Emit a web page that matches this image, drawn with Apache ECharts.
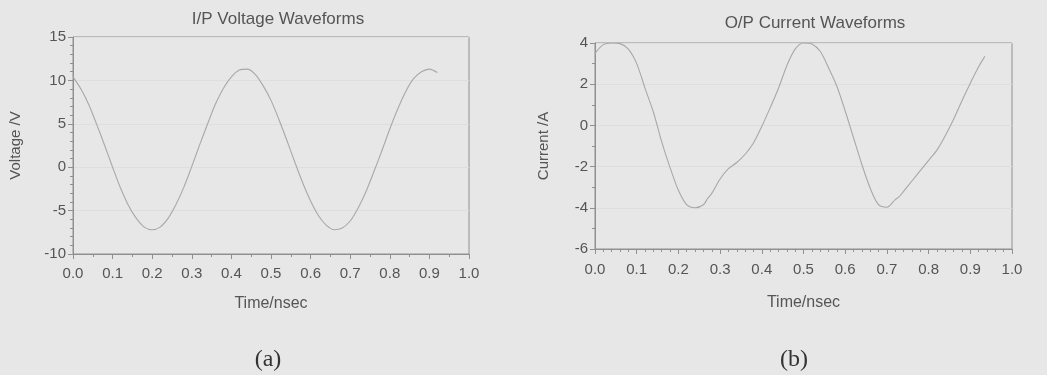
<!DOCTYPE html>
<html>
<head>
<meta charset="utf-8">
<script src="https://cdn.jsdelivr.net/npm/echarts@6/dist/echarts.min.js"></script>
<style>
html,body{margin:0;padding:0;background:#e7e7e7;}
#c{width:1047px;height:375px;}
</style>
</head>
<body>
<div id="c"></div>
<script>
// ---- data ----
var voltTime = [0.00,0.02,0.04,0.06,0.08,0.10,0.12,0.14,0.16,0.18,0.20,0.22,0.24,0.26,0.28,0.30,0.32,0.34,0.36,0.38,0.40,0.42,0.44,0.46,0.48,0.50,0.52,0.54,0.56,0.58,0.60,0.62,0.64,0.66,0.68,0.70,0.72,0.74,0.76,0.78,0.80,0.82,0.84,0.86,0.88,0.90,0.92];
var voltVals = [10.4,9.0,7.2,4.9,2.5,0.0,-2.4,-4.4,-5.9,-6.9,-7.2,-6.9,-5.9,-4.3,-2.3,0.1,2.6,5.0,7.3,9.1,10.4,11.2,11.3,10.7,9.4,7.7,5.5,3.1,0.6,-1.8,-3.9,-5.6,-6.7,-7.2,-7.0,-6.2,-4.7,-2.8,-0.5,1.9,4.4,6.7,8.7,10.2,11.0,11.3,10.9];

var curTime = [0.00,0.02,0.04,0.06,0.08,0.10,0.12,0.14,0.16,0.18,0.20,0.22,0.24,0.26,0.27,0.28,0.30,0.32,0.34,0.36,0.38,0.40,0.42,0.44,0.46,0.48,0.50,0.52,0.54,0.56,0.58,0.60,0.62,0.64,0.66,0.68,0.70,0.72,0.73,0.74,0.76,0.78,0.80,0.82,0.84,0.86,0.88,0.90,0.92,0.935];
var curVals = [3.5,3.92,4.0,3.97,3.7,3.0,1.8,0.65,-0.8,-2.05,-3.15,-3.85,-4.0,-3.85,-3.55,-3.3,-2.6,-2.1,-1.8,-1.4,-0.85,-0.05,0.85,1.8,2.9,3.7,4.0,3.95,3.6,2.8,1.9,0.7,-0.6,-1.9,-3.05,-3.85,-3.97,-3.6,-3.45,-3.2,-2.7,-2.2,-1.7,-1.2,-0.5,0.3,1.2,2.05,2.85,3.35];

var titleA = 'I/P Voltage Waveforms';
var titleB = 'O/P Current Waveforms';
var yNameA = 'Voltage /V';
var yNameB = 'Current /A';
var xName = 'Time/nsec';
var capA = '(a)';
var capB = '(b)';

function pairs(xs, ys){ return xs.map(function(x,i){ return [x, ys[i]]; }); }

var txt = '#555555';
var axc = '#909090';
var font = 'Liberation Sans, Arial, sans-serif';

function xAx(idx, gap, margin){
  return {
    type:'value', gridIndex:idx, min:0, max:1, interval:0.1,
    name:xName, nameLocation:'middle', nameGap:gap,
    nameTextStyle:{color:txt, fontSize:16, fontFamily:font},
    axisLine:{show:true, onZero:false, lineStyle:{color:axc}},
    axisTick:{show:true, length:5, lineStyle:{color:axc}},
    minorTick:{show:true, splitNumber: idx===0 ? 2 : 5, length:3, lineStyle:{color:axc}},
    axisLabel:{color:txt, fontSize:15, fontFamily:font, margin:margin, formatter:function(v){return v.toFixed(1);}},
    splitLine:{show:false}
  };
}
function yAx(idx, mn, mx, iv, nm, gap, minors){
  return {
    type:'value', gridIndex:idx, min:mn, max:mx, interval:iv,
    name:nm, nameLocation:'middle', nameGap:gap,
    nameTextStyle:{color:txt, fontSize:15, fontFamily:font},
    axisLine:{show:true, onZero:false, lineStyle:{color:axc}},
    axisTick:{show:true, length:5, lineStyle:{color:axc}},
    minorTick:{show:true, splitNumber:minors, length:3, lineStyle:{color:axc}},
    axisLabel:{color:txt, fontSize:15, fontFamily:font, margin:7},
    splitLine:{show:true, lineStyle:{color:'#dedede', width:1}}
  };
}

var chart = echarts.init(document.getElementById('c'), null, {renderer:'canvas'});
chart.setOption({
  backgroundColor:'#e7e7e7',
  animation:false,
  title:[
    {text:titleA, left:273, top:6, textAlign:'center', textStyle:{color:txt, fontSize:17, fontWeight:'normal', fontFamily:font}},
    {text:titleB, left:810, top:10, textAlign:'center', textStyle:{color:txt, fontSize:17, fontWeight:'normal', fontFamily:font}},
    {text:capA, left:263, top:343, textAlign:'center', textStyle:{color:'#333', fontSize:24, fontWeight:'normal', fontFamily:'Liberation Serif, Times New Roman, serif'}},
    {text:capB, left:789, top:343, textAlign:'center', textStyle:{color:'#333', fontSize:24, fontWeight:'normal', fontFamily:'Liberation Serif, Times New Roman, serif'}}
  ],
  grid:[
    {left:73, right:578, top:37, bottom:121, show:true, borderColor:axc, borderWidth:1, backgroundColor:'transparent'},
    {left:595, right:35, top:43, bottom:126, show:true, borderColor:axc, borderWidth:1, backgroundColor:'transparent'}
  ],
  xAxis:[xAx(0, 42, 12), xAx(1, 46, 13)],
  yAxis:[
    yAx(0, -10, 15, 5, yNameA, 50, 5),
    yAx(1, -6, 4, 2, yNameB, 44, 2)
  ],
  series:[
    {type:'line', xAxisIndex:0, yAxisIndex:0, data:pairs(voltTime, voltVals), smooth:0.3, showSymbol:false, lineStyle:{color:'#a8a8a8', width:1.1}},
    {type:'line', xAxisIndex:1, yAxisIndex:1, data:pairs(curTime, curVals), smooth:0.3, showSymbol:false, lineStyle:{color:'#a8a8a8', width:1.1}}
  ]
});
</script>
</body>
</html>
